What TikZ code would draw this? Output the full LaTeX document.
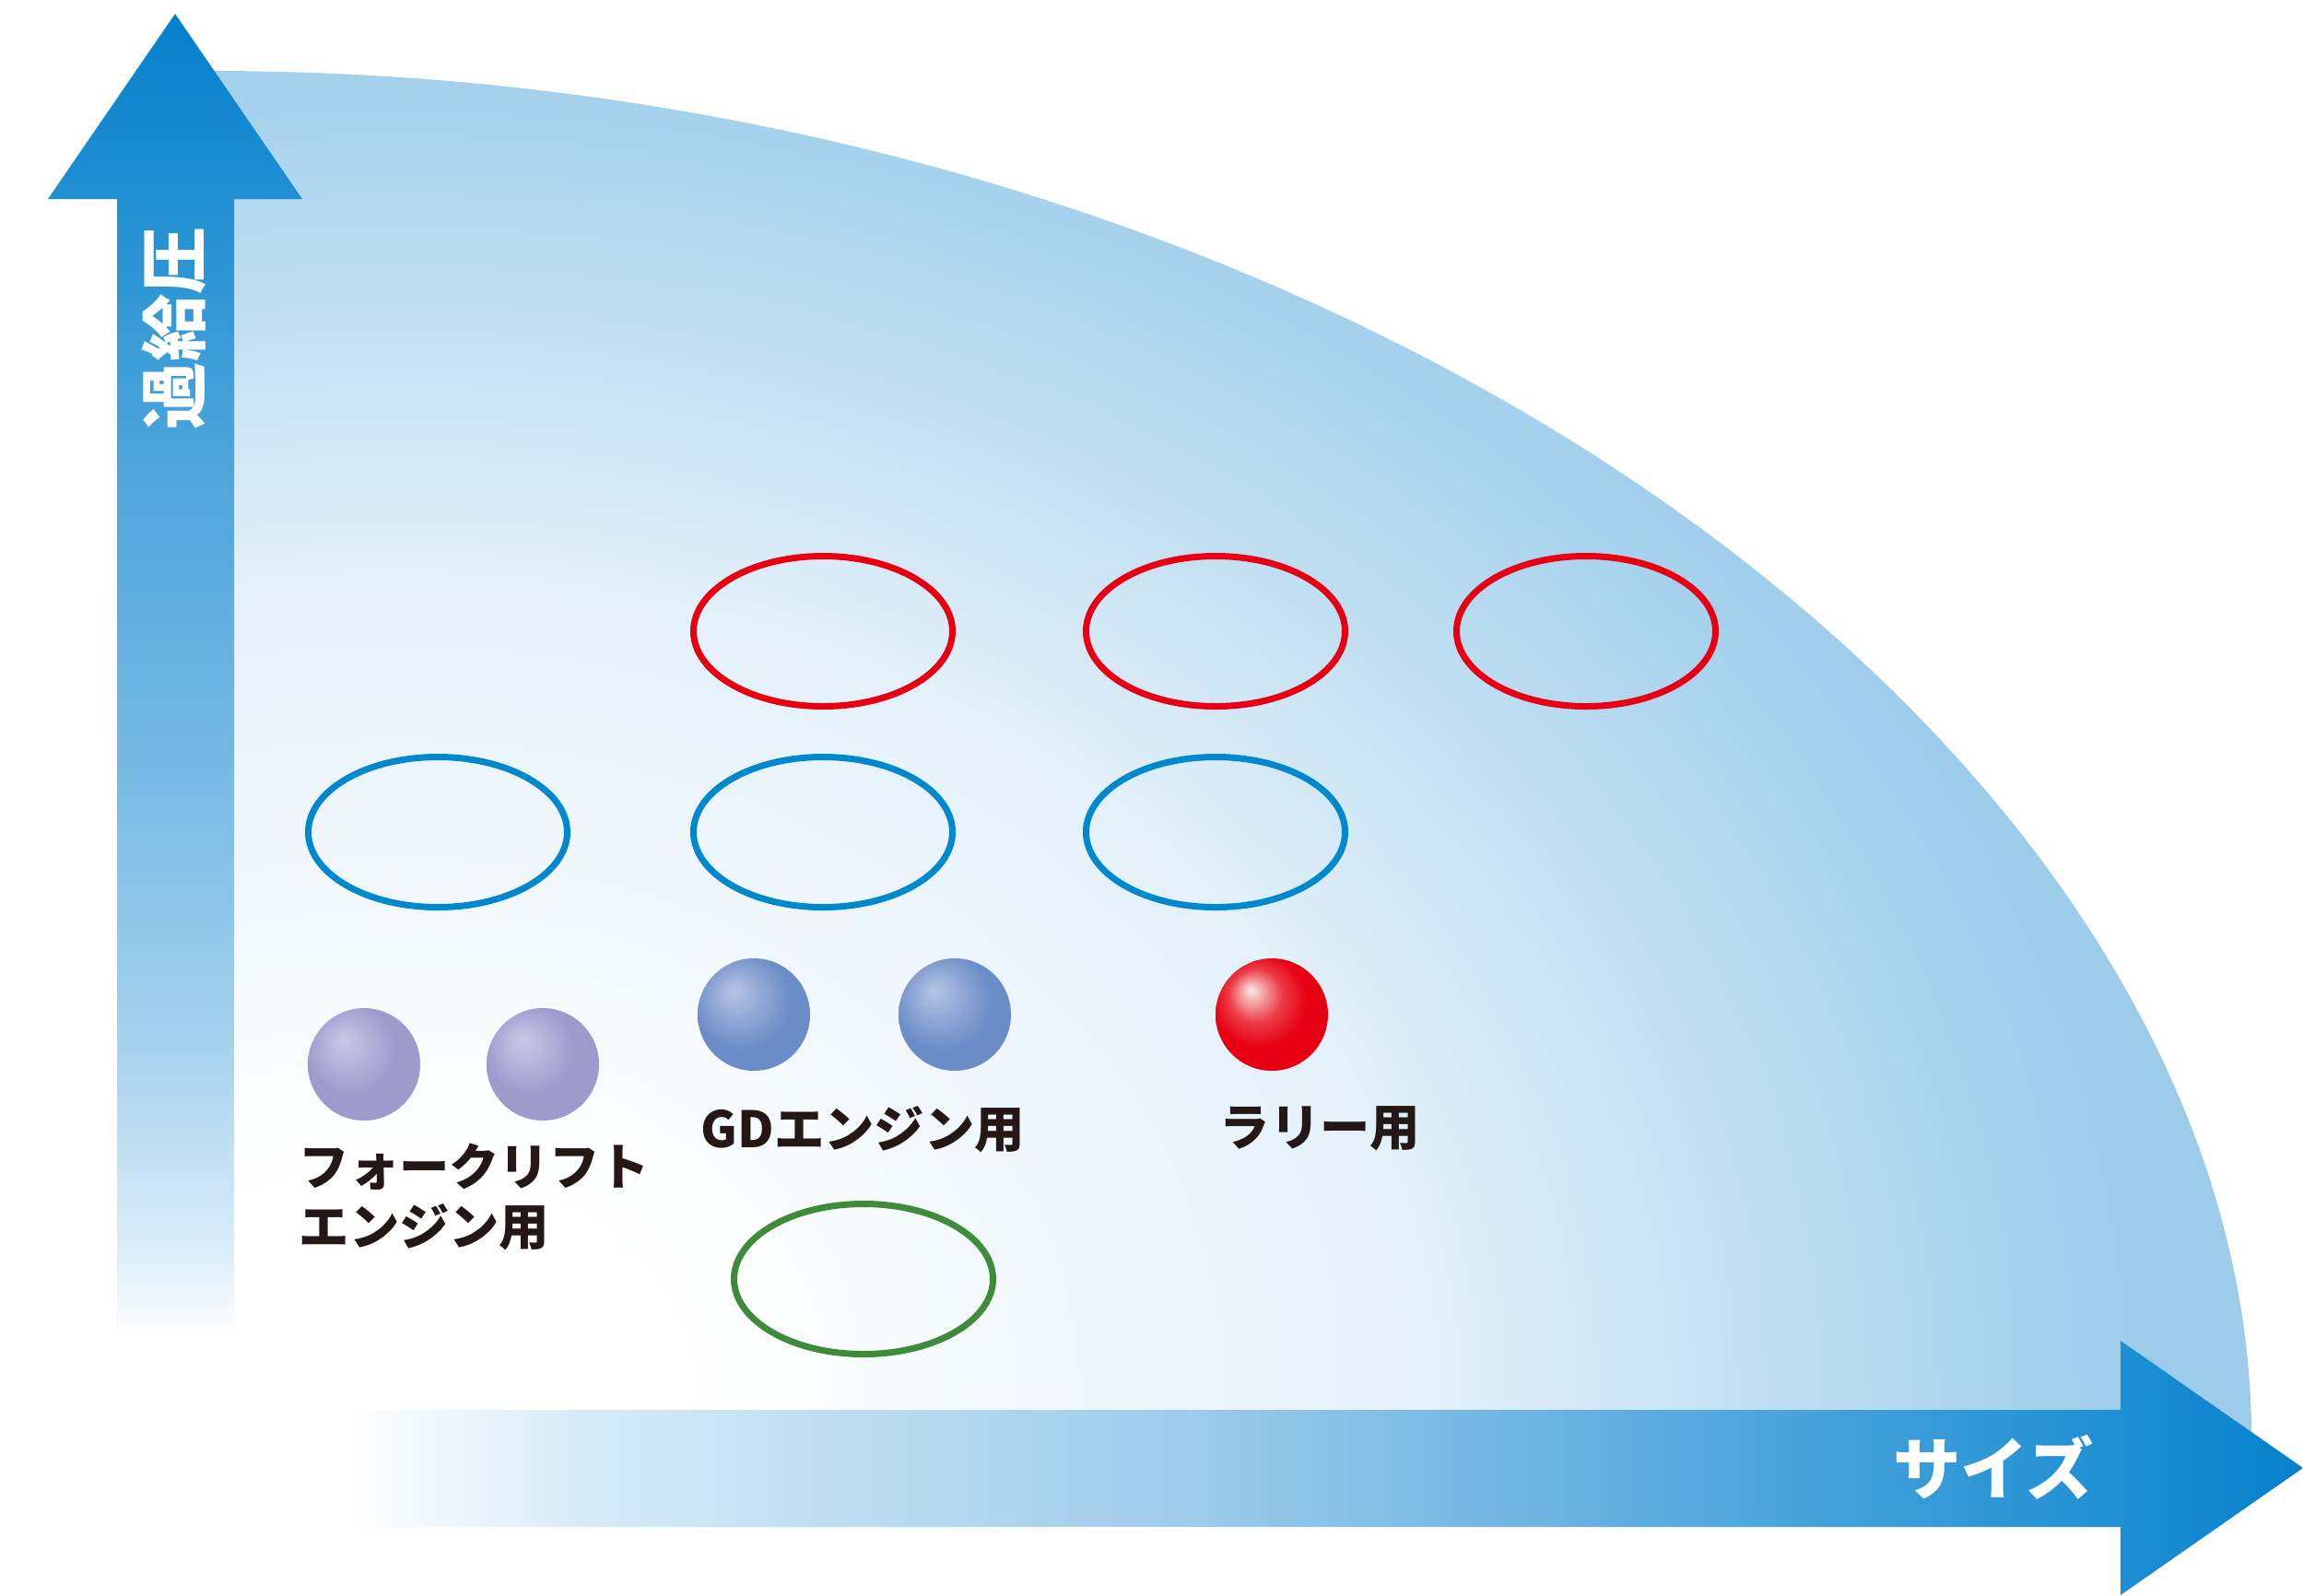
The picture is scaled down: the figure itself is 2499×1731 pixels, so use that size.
\documentclass[tikz,border=0pt]{standalone}
\usepackage{fontspec}
\setmainfont{Noto Sans CJK JP}
\usetikzlibrary{shapes.geometric}

\definecolor{axisdark}{HTML}{0580CC}
\definecolor{bgblue}{HTML}{9DCCEA}
\definecolor{rallyred}{HTML}{E60012}
\definecolor{gdblue}{HTML}{0088CE}
\definecolor{lowgreen}{HTML}{3E8C3A}
\definecolor{labelblack}{HTML}{231815}

% axis arrows
\definecolor{vaxisA}{HTML}{DCEEF9}
\definecolor{vaxisB}{HTML}{A5D1EE}
\definecolor{vaxisC}{HTML}{72B8E3}
\definecolor{vaxisD}{HTML}{4BA4DB}
\definecolor{vaxisE}{HTML}{2190D3}
\definecolor{haxisA}{HTML}{D5EAF7}
\definecolor{haxisB}{HTML}{9FCCEB}
\definecolor{haxisC}{HTML}{4DA5DC}
\definecolor{haxisD}{HTML}{1E8FD3}
\pgfdeclareverticalshading{vaxis}{100bp}{color(0bp)=(white); color(26bp)=(white); color(29bp)=(vaxisA); color(37bp)=(vaxisB); color(48bp)=(vaxisC); color(59bp)=(vaxisD); color(68bp)=(vaxisE); color(75bp)=(axisdark); color(100bp)=(axisdark)}
\pgfdeclarehorizontalshading{haxis}{100bp}{color(0bp)=(white); color(26.8bp)=(white); color(32.7bp)=(haxisA); color(47.2bp)=(haxisB); color(61.6bp)=(haxisC); color(70.5bp)=(haxisD); color(75bp)=(axisdark); color(100bp)=(axisdark)}

% background glow
\definecolor{bgA}{HTML}{F0F7FC}
\definecolor{bgB}{HTML}{E4F1FA}
\definecolor{bgC}{HTML}{D3E8F5}
\definecolor{bgD}{HTML}{BDDDF1}
\definecolor{bgE}{HTML}{A8D3ED}
\pgfdeclareradialshading{bgglow}{\pgfpointorigin}{color(0bp)=(white); color(2bp)=(white); color(5bp)=(bgA); color(7.25bp)=(bgB); color(8.5bp)=(bgC); color(10bp)=(bgD); color(11.5bp)=(bgE); color(12.5bp)=(bgblue); color(50bp)=(bgblue)}

% balls
\definecolor{forkhi}{HTML}{C9C9E6}
\definecolor{forkbase}{HTML}{A09ACC}
\definecolor{gdhi}{HTML}{B7C4E5}
\definecolor{gdbase}{HTML}{6A8CC7}
\definecolor{rallyhi}{HTML}{FDE9E6}
\definecolor{rallymid}{HTML}{F4A0A2}
\definecolor{rallylow}{HTML}{EC3A46}
\pgfdeclareradialshading{forkball}{\pgfpoint{-9.5bp}{11bp}}{color(0bp)=(forkhi); color(20bp)=(forkbase); color(50bp)=(forkbase)}
\pgfdeclareradialshading{gdball}{\pgfpoint{-9.5bp}{11bp}}{color(0bp)=(gdhi); color(22bp)=(gdbase); color(50bp)=(gdbase)}
\pgfdeclareradialshading{rallyball}{\pgfpoint{-9.5bp}{11bp}}{color(0bp)=(rallyhi); color(5bp)=(rallymid); color(12bp)=(rallylow); color(21bp)=(rallyred); color(50bp)=(rallyred)}

\tikzstyle{ring} = [ellipse, draw, line width=2.1pt, minimum width=84.3pt, minimum height=48.9pt, inner sep=0pt]
\tikzstyle{redring} = [ring, draw=rallyred]
\tikzstyle{bluering} = [ring, draw=gdblue]
\tikzstyle{greenring} = [ring, draw=lowgreen]
\tikzstyle{ball} = [circle, minimum size=36.6pt, inner sep=0pt]
\tikzstyle{usage} = [inner sep=0pt, text=labelblack, align=left, font=\fontsize{16.3}{19.5}\selectfont\bfseries]
\tikzstyle{axistitle} = [inner sep=0pt, text=white, font=\fontsize{22}{26}\selectfont\bfseries]

\begin{document}
\begin{tikzpicture}[x=0.3pt, y=-0.3pt]
\useasboundingbox (0,0) rectangle (2499,1731);

% background
\begin{scope}
\clip (190,77) -- (230,77) .. controls (1445,77) and (2443,805) .. (2443,1560) -- (2443,1593) -- (190,1593) -- cycle;
\shade[shading=bgglow] (430,1520) ellipse [x radius=3800, y radius=3030];
\end{scope}

% axes
\shade[shading=haxis] (300,1530) -- (2301,1530) -- (2301,1455) -- (2499,1593) -- (2301,1731) -- (2301,1657) -- (300,1657) -- cycle;
\shade[shading=vaxis] (127,1480) -- (127,216) -- (52,216) -- (190,15) -- (328,216) -- (254,216) -- (254,1480) -- cycle;
\node[axistitle, rotate=90] (ytitle) at (189,356) {過給圧};
\node[axistitle] (xtitle) at (2163,1592) {サイズ};

% rings
\node[redring] (rally1) at (893,685) {};
\node[redring] (rally2) at (1319,685) {};
\node[redring] (rally3) at (1721,685) {};
\node[bluering] (gd1) at (475,903) {};
\node[bluering] (gd2) at (893,903) {};
\node[bluering] (gd3) at (1319,903) {};
\node[greenring] (low) at (937,1388) {};

% engines
\node[ball, shading=forkball] (fork1) at (395,1155) {};
\node[ball, shading=forkball] (fork2) at (589,1155) {};
\node[ball, shading=gdball] (gdA) at (818,1101) {};
\node[ball, shading=gdball] (gdB) at (1036,1101) {};
\node[ball, shading=rallyball] (rallyA) at (1380,1101) {};

\node[usage, anchor=north west] (forktext) at (324,1240) {フォークリフト\\エンジン用};
\node[usage, anchor=north west] (gdtext) at (760,1200) {GDエンジン用};
\node[usage, anchor=north west] (rallytext) at (1323,1200) {ラリー用};
\end{tikzpicture}
\end{document}
